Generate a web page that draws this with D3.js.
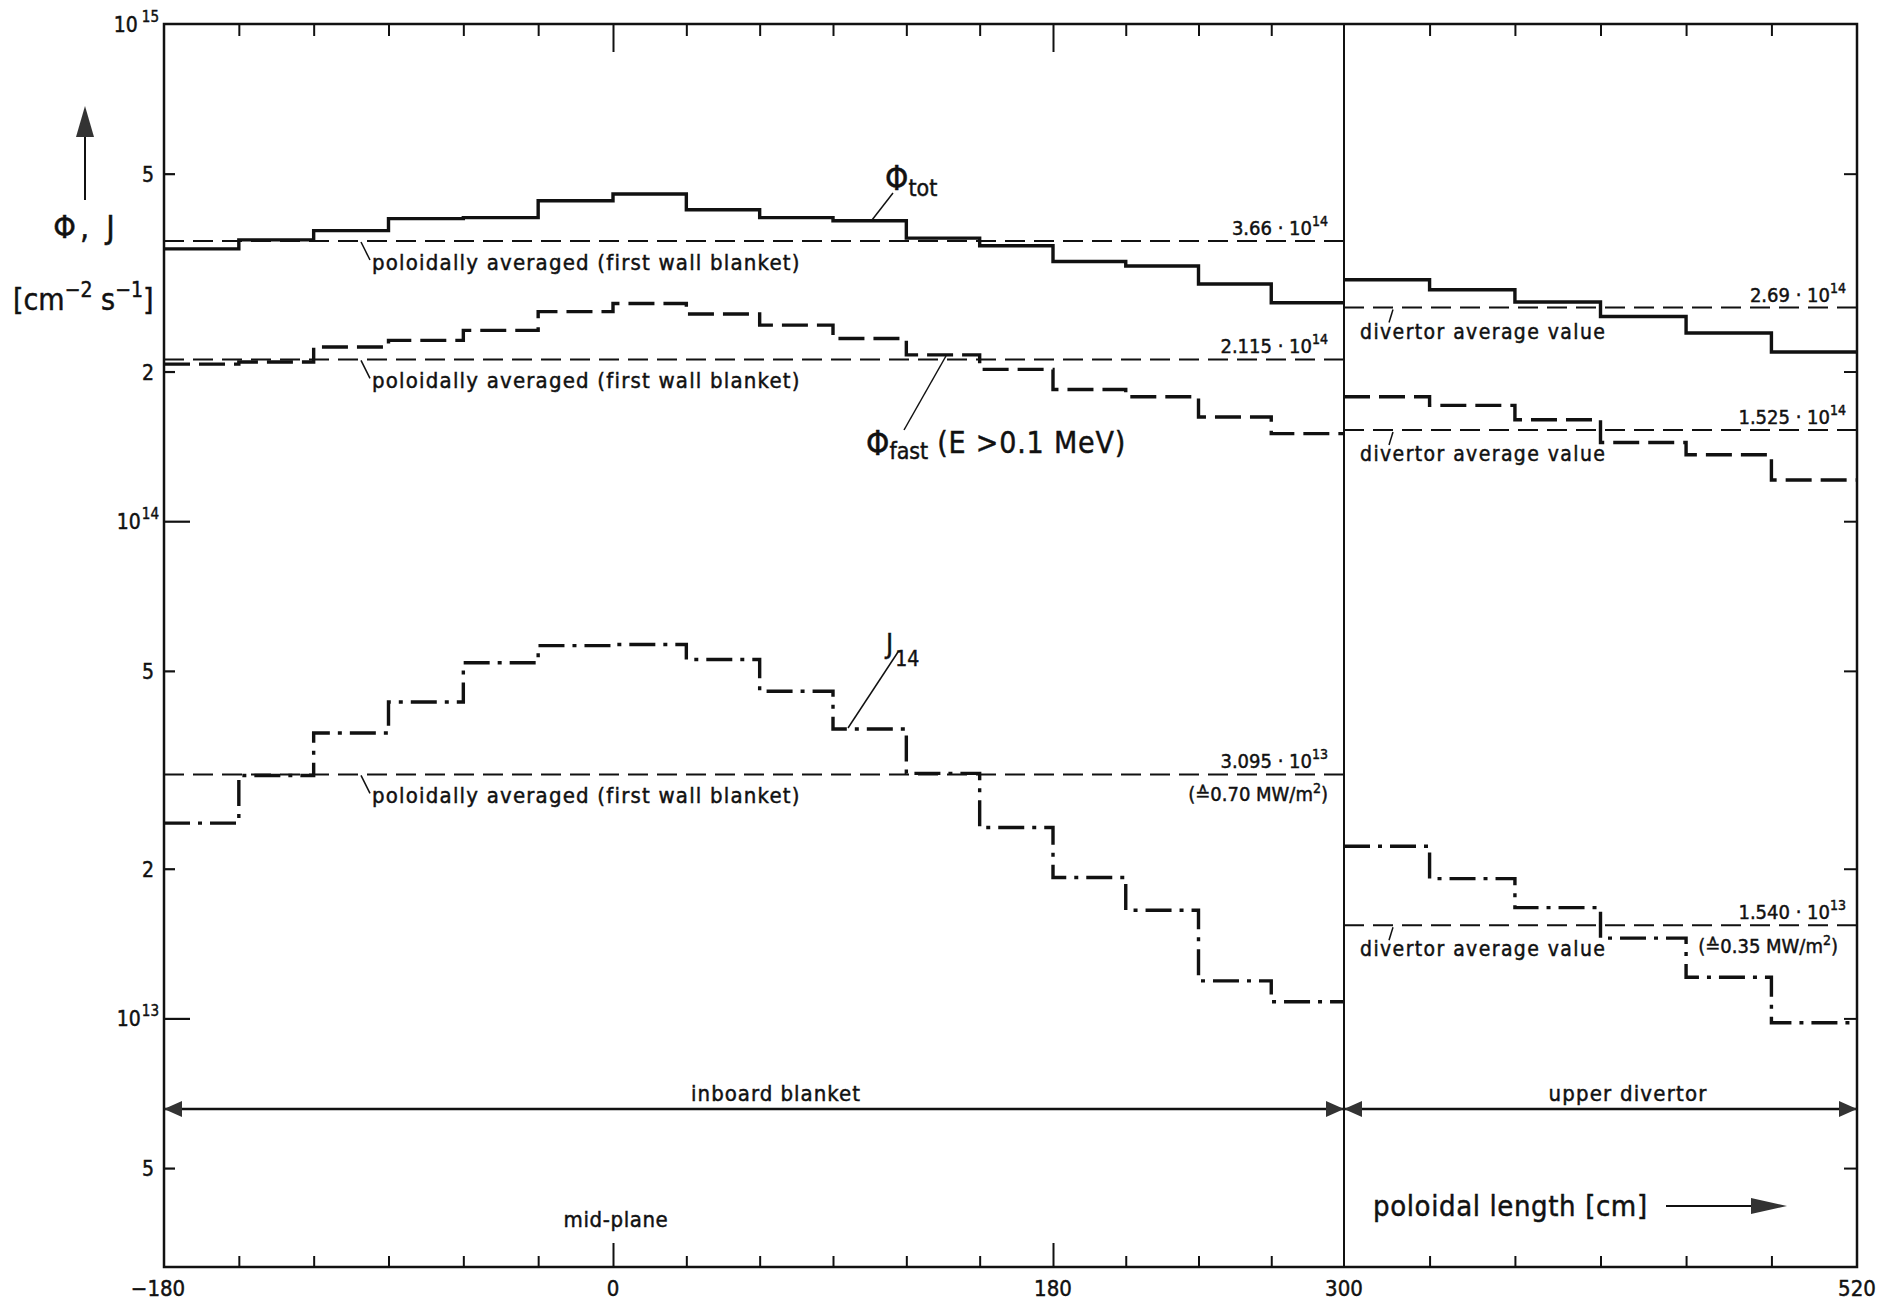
<!DOCTYPE html>
<html>
<head>
<meta charset="utf-8">
<script src="https://cdn.jsdelivr.net/npm/d3@7"></script>
<style>
  body { margin: 0; background: #fff; }
  svg text { font-family: "DejaVu Sans Condensed", "DejaVu Sans", sans-serif; font-stretch: condensed;
             fill: #111; stroke: #111; stroke-width: 0.45; }
</style>
</head>
<body>
<svg id="chart" width="1885" height="1302"></svg>
<script>
// segment boundaries along the poloidal length [cm]
const inboardEdges = [-180, -150, -120, -90, -60, -30, 0, 30, 60, 90, 120, 150, 180, 210, 240, 270, 300];
const divertorEdges = [300, 336.7, 373.3, 410, 446.7, 483.3, 520];

// step values per segment [cm^-2 s^-1]
const phiTotInboard = [3.53e14, 3.68e14, 3.84e14, 4.06e14, 4.08e14, 4.41e14, 4.55e14, 4.23e14,
                       4.08e14, 4.02e14, 3.71e14, 3.58e14, 3.33e14, 3.26e14, 3.00e14, 2.75e14];
const phiFastInboard = [2.07e14, 2.09e14, 2.24e14, 2.31e14, 2.42e14, 2.64e14, 2.74e14, 2.61e14,
                        2.48e14, 2.33e14, 2.16e14, 2.02e14, 1.84e14, 1.78e14, 1.62e14, 1.50e14];
const j14Inboard = [2.47e13, 3.08e13, 3.75e13, 4.33e13, 5.19e13, 5.62e13, 5.65e13, 5.27e13,
                    4.55e13, 3.82e13, 3.11e13, 2.42e13, 1.92e13, 1.65e13, 1.19e13, 1.08e13];
const phiTotDivertor = [3.06e14, 2.92e14, 2.76e14, 2.58e14, 2.39e14, 2.19e14];
const phiFastDivertor = [1.78e14, 1.71e14, 1.60e14, 1.44e14, 1.36e14, 1.21e14];
const j14Divertor = [2.22e13, 1.91e13, 1.67e13, 1.45e13, 1.21e13, 0.98e13];

// averages: [value, mantissa text, exponent]
const inboardAverages = [[3.66e14, "3.66", "14"], [2.115e14, "2.115", "14"], [3.095e13, "3.095", "13"]];
const divertorAverages = [[2.69e14, "2.69", "14"], [1.525e14, "1.525", "14"], [1.540e13, "1.540", "13"]];

const yTicks = [1e15, 5e14, 2e14, 1e14, 5e13, 2e13, 1e13, 5e12];
const xLabels = [-180, 0, 180, 300, 520];

const svg = d3.select("#chart");
const ink = "#111";

// the divertor part of the original drawing is slightly compressed
const x = d3.scaleLinear().domain([-180, 0, 180, 300, 520]).range([164, 613, 1053, 1344, 1857]);
const y = d3.scaleLog().domain([Math.pow(10, 12.5), 1e15]).range([1267, 24]);

const plotLeft = x(-180), plotRight = x(520), plotTop = y(1e15), plotBottom = y.range()[0];

// frame + divider
svg.append("rect").attr("x", plotLeft).attr("y", plotTop)
  .attr("width", plotRight - plotLeft).attr("height", plotBottom - plotTop)
  .attr("fill", "none").attr("stroke", ink).attr("stroke-width", 2.5);
svg.append("line").attr("x1", x(300)).attr("x2", x(300)).attr("y1", plotTop).attr("y2", plotBottom)
  .attr("stroke", ink).attr("stroke-width", 2);

// y ticks left and right
const isDecade = d => Math.abs(Math.log10(d) - Math.round(Math.log10(d))) < 1e-9;
svg.append("g").attr("transform", `translate(${plotLeft},0)`)
  .call(d3.axisLeft(y).tickValues(yTicks.slice(1)).tickSize(0).tickFormat(""))
  .call(g => g.select(".domain").remove())
  .selectAll(".tick line").attr("x2", d => isDecade(d) ? 26 : 11).attr("stroke", ink).attr("stroke-width", 2.2);
svg.append("g").attr("transform", `translate(${plotRight},0)`)
  .call(d3.axisRight(y).tickValues(yTicks.slice(1)).tickSize(0).tickFormat(""))
  .call(g => g.select(".domain").remove())
  .selectAll(".tick line").attr("x2", -13).attr("stroke", ink).attr("stroke-width", 2);

// y tick labels
yTicks.forEach(d => {
  const lab = svg.append("text").attr("text-anchor", "end").attr("font-size", 21)
    .attr("x", 159).attr("y", y(d) + 8);
  if (isDecade(d)) {
    lab.append("tspan").text("10");
    lab.append("tspan").attr("dx", d === 1e15 ? 4 : 1).attr("dy", -10).attr("font-size", 15)
      .text(Math.round(Math.log10(d)));
  } else {
    lab.attr("x", 154).text(String(Math.round(d / Math.pow(10, Math.floor(Math.log10(d))))));
  }
});

// x ticks top and bottom
const edgeTicks = inboardEdges.slice(1, -1).concat(divertorEdges.slice(1, -1));
const longTick = d => d === 0 || d === 180;
svg.append("g").attr("transform", `translate(0,${plotTop})`)
  .call(d3.axisTop(x).tickValues(edgeTicks).tickSize(0).tickFormat(""))
  .call(g => g.select(".domain").remove())
  .selectAll(".tick line").attr("y2", d => longTick(d) ? 28 : 12).attr("stroke", ink).attr("stroke-width", 2);
svg.append("g").attr("transform", `translate(0,${plotBottom})`)
  .call(d3.axisBottom(x).tickValues(edgeTicks).tickSize(0).tickFormat(""))
  .call(g => g.select(".domain").remove())
  .selectAll(".tick line").attr("y2", d => longTick(d) ? -24 : -11).attr("stroke", ink).attr("stroke-width", 2);

svg.selectAll(".xlab").data(xLabels).enter().append("text")
  .attr("class", "xlab").attr("x", d => x(d) - (d === -180 ? 6 : 0)).attr("y", 1296)
  .attr("text-anchor", "middle").attr("font-size", 22)
  .text(d => d < 0 ? "\u2212" + Math.abs(d) : d);

// step curves
const stepLine = d3.line().x(d => x(d[0])).y(d => y(d[1])).curve(d3.curveStepAfter);
function stepPoints(edges, vals) {
  const pts = vals.map((v, i) => [edges[i], v]);
  pts.push([edges[edges.length - 1], vals[vals.length - 1]]);
  return pts;
}
const series = [
  [inboardEdges, phiTotInboard, null],
  [divertorEdges, phiTotDivertor, null],
  [inboardEdges, phiFastInboard, "26,9"],
  [divertorEdges, phiFastDivertor, "26,9"],
  [inboardEdges, j14Inboard, "26,8,4,8"],
  [divertorEdges, j14Divertor, "26,8,4,8"]
];
series.forEach(s => {
  svg.append("path").attr("d", stepLine(stepPoints(s[0], s[1])))
    .attr("fill", "none").attr("stroke", ink).attr("stroke-width", 3.4)
    .attr("stroke-dasharray", s[2]);
});

// average lines with labels
function sciLabel(xr, yb, mant, exp) {
  const lab = svg.append("text").attr("x", xr).attr("y", yb).attr("text-anchor", "end").attr("font-size", 20);
  lab.append("tspan").text(mant + " \u00B7 10");
  lab.append("tspan").attr("dy", -9).attr("font-size", 14).text(exp);
}
function avgLine(x0, x1, v) {
  svg.append("line").attr("x1", x(x0)).attr("x2", x(x1)).attr("y1", y(v)).attr("y2", y(v))
    .attr("stroke", ink).attr("stroke-width", 2).attr("stroke-dasharray", "20,9");
}
inboardAverages.forEach(a => {
  const yy = y(a[0]);
  avgLine(-180, 300, a[0]);
  sciLabel(1328, yy - 6, a[1], a[2]);
  svg.append("line").attr("x1", 361).attr("y1", yy + 1).attr("x2", 370).attr("y2", yy + 19)
    .attr("stroke", ink).attr("stroke-width", 1.5);
  svg.append("text").attr("x", 372).attr("y", yy + 29).attr("font-size", 22).attr("letter-spacing", 1.2)
    .text("poloidally averaged (first wall blanket)");
});
divertorAverages.forEach(a => {
  const yy = y(a[0]);
  avgLine(300, 520, a[0]);
  sciLabel(1846, yy - 6, a[1], a[2]);
  svg.append("line").attr("x1", 1393).attr("y1", yy + 2).attr("x2", 1389).attr("y2", yy + 15)
    .attr("stroke", ink).attr("stroke-width", 1.5);
  svg.append("text").attr("x", 1360).attr("y", yy + 31).attr("font-size", 21).attr("letter-spacing", 1.4)
    .text("divertor average value");
});
// power equivalents
function mwLabel(xr, yb, val) {
  const lab = svg.append("text").attr("x", xr).attr("y", yb).attr("text-anchor", "end").attr("font-size", 20);
  lab.append("tspan").text("(\u2259" + val + " MW/m");
  lab.append("tspan").attr("dy", -8).attr("font-size", 14).text("2");
  lab.append("tspan").attr("dy", 8).text(")");
}
mwLabel(1328, y(inboardAverages[2][0]) + 27, "0.70");
mwLabel(1838, y(divertorAverages[2][0]) + 28, "0.35");

// curve names with leaders
function leader(x1, y1, x2, y2) {
  svg.append("line").attr("x1", x1).attr("y1", y1).attr("x2", x2).attr("y2", y2)
    .attr("stroke", ink).attr("stroke-width", 1.5);
}
leader(872, 220, 893, 193);
let name = svg.append("text").attr("x", 885).attr("y", 190).attr("font-size", 33);
name.append("tspan").text("\u03A6");
name.append("tspan").attr("dy", 6).attr("font-size", 23).text("tot");

leader(946, 356, 904, 430);
name = svg.append("text").attr("x", 866).attr("y", 455).attr("font-size", 33);
name.append("tspan").text("\u03A6");
name.append("tspan").attr("dy", 4).attr("font-size", 23).text("fast");
name.append("tspan").attr("dx", 9).attr("dy", -6).attr("font-size", 30).attr("letter-spacing", 0.8)
  .text("(E >0.1 MeV)");

leader(898, 652, 848, 728);
name = svg.append("text").attr("x", 886).attr("y", 653).attr("font-size", 27);
name.append("tspan").text("J");
name.append("tspan").attr("dx", 2).attr("dy", 13).attr("font-size", 21).text("14");

// y axis title with arrow
svg.append("line").attr("x1", 85).attr("x2", 85).attr("y1", 200).attr("y2", 132)
  .attr("stroke", ink).attr("stroke-width", 2);
svg.append("path").attr("d", "M85,106 L94,137 L76,137 Z").attr("fill", "#333");
svg.append("text").attr("x", 86).attr("y", 238).attr("text-anchor", "middle").attr("font-size", 32)
  .attr("letter-spacing", 4).text("\u03A6, J");
const unit = svg.append("text").attr("x", 13).attr("y", 310).attr("font-size", 30);
unit.append("tspan").text("[cm");
unit.append("tspan").attr("dy", -13).attr("font-size", 21).text("\u22122");
unit.append("tspan").attr("dy", 13).text(" s");
unit.append("tspan").attr("dy", -13).attr("font-size", 21).text("\u22121");
unit.append("tspan").attr("dy", 13).text("]");

// region arrows
const rowY = 1109;
function head(tipX, dir) {
  svg.append("path")
    .attr("d", `M${tipX},${rowY} L${tipX + dir * 18},${rowY - 8} L${tipX + dir * 18},${rowY + 8} Z`)
    .attr("fill", "#333");
}
svg.append("line").attr("x1", plotLeft).attr("x2", plotRight).attr("y1", rowY).attr("y2", rowY)
  .attr("stroke", ink).attr("stroke-width", 2.4);
head(plotLeft, 1); head(x(300), -1); head(x(300), 1); head(plotRight, -1);
svg.append("text").attr("x", 776).attr("y", 1101).attr("text-anchor", "middle").attr("font-size", 22)
  .attr("letter-spacing", 1).text("inboard blanket");
svg.append("text").attr("x", 1628).attr("y", 1101).attr("text-anchor", "middle").attr("font-size", 22)
  .attr("letter-spacing", 1.2).text("upper divertor");
svg.append("text").attr("x", 616).attr("y", 1227).attr("text-anchor", "middle").attr("font-size", 22)
  .attr("letter-spacing", 0.6).text("mid-plane");

// x axis title
svg.append("text").attr("x", 1373).attr("y", 1216).attr("font-size", 29).attr("letter-spacing", 0.6)
  .text("poloidal length [cm]");
svg.append("line").attr("x1", 1666).attr("x2", 1758).attr("y1", 1206).attr("y2", 1206)
  .attr("stroke", ink).attr("stroke-width", 2.2);
svg.append("path").attr("d", "M1787,1206 L1751,1198 L1751,1214 Z").attr("fill", "#333");
</script>
</body>
</html>
